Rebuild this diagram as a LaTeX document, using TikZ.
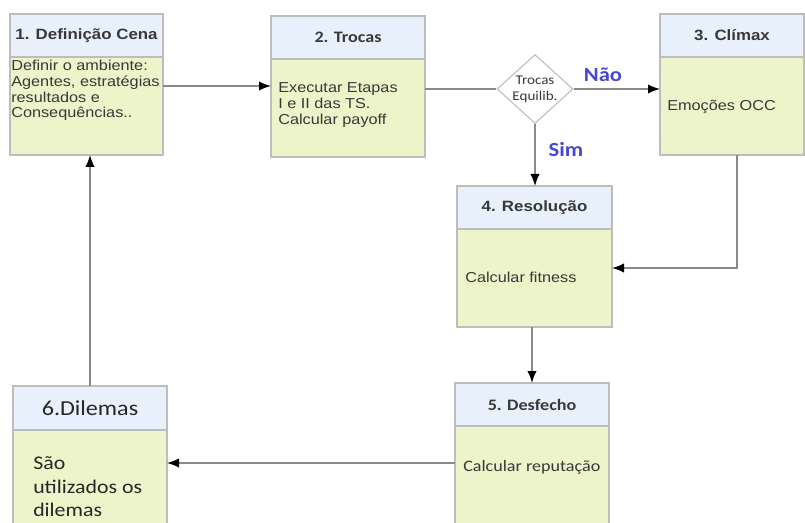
\documentclass[tikz,border=0pt]{standalone}
\usepackage{fontspec}
\usetikzlibrary{arrows.meta,calc,shapes.geometric}
\newfontfamily\arialf[FakeStretch=1.13]{Liberation Sans}
\newfontfamily\calibf[FakeStretch=1.13]{Carlito}
\definecolor{hdrfill}{HTML}{E8F1FB}
\definecolor{bodyfill}{HTML}{EEF4CA}
\definecolor{boxline}{HTML}{BDBDBD}
\definecolor{txt}{HTML}{383838}
\definecolor{lnc}{HTML}{8A8A8A}
\definecolor{lblue}{HTML}{4747D2}
\begin{document}
\begin{tikzpicture}[x=0.75pt,y=-0.75pt,
  hdr/.style={draw=boxline,fill=hdrfill,inner sep=0pt,outer sep=0pt,line width=0.8pt,minimum height=32.25pt},
  bdy/.style={draw=boxline,fill=bodyfill,inner sep=0pt,outer sep=0pt,line width=0.8pt,minimum height=73.5pt},
  ahdr/.style={text=txt,font=\arialf\bfseries\fontsize{11.2pt}{13pt}\selectfont},
  chdr/.style={text=txt,font=\calibf\bfseries\fontsize{12pt}{14pt}\selectfont},
  atxt/.style={text=txt,inner sep=0pt,anchor=west,align=left,font=\arialf\fontsize{10.8pt}{11.8pt}\selectfont},
  ln/.style={draw=lnc,line width=1.1pt},
  arr/.style={ln,-{Latex[length=9pt,width=7pt,color=black]}},
  lbl/.style={text=lblue,font=\calibf\bfseries\fontsize{15pt}{17pt}\selectfont}]
\useasboundingbox (0,0) rectangle (805,523);
% Box 1
\node[hdr,minimum width=114.75pt] (h1) at (86.5,35.5) {};
\node[bdy,minimum width=114.75pt] (b1) at (86.5,106) {};
\node[ahdr] (t1h) at (h1.center) {1. Definição Cena};
\node[atxt,anchor=north west] (t1) at (11,60) {Definir o ambiente:\\Agentes, estratégias\\resultados e\\Consequências..};
% Box 2
\node[hdr,minimum width=115.5pt] (h2) at (348,37.5) {};
\node[bdy,minimum width=115.5pt] (b2) at (348,108) {};
\node[chdr] (t2h) at (h2.center) {2. Trocas};
\node[atxt] (t2) at (278,105) {Executar Etapas\\I e II das TS.\\Calcular payoff};
% Diamond
\node[diamond,draw=boxline,fill=white,line width=0.8pt,inner sep=0pt,minimum width=57pt,minimum height=51.75pt] (d) at (535,89) {};
\node[text=txt,align=center,font=\calibf\fontsize{10pt}{12pt}\selectfont] (dt) at (d.center) {Trocas\\Equilib.};
% Box 3
\node[hdr,minimum width=108pt] (h3) at (732,35.5) {};
\node[bdy,minimum width=108pt] (b3) at (732,106) {};
\node[ahdr] (t3h) at (h3.center) {3. Clímax};
\node[atxt] (t3) at (667,107) {Emoções OCC};
% Box 4
\node[hdr,minimum width=116.25pt] (h4) at (534.5,207.5) {};
\node[bdy,minimum width=116.25pt] (b4) at (534.5,278) {};
\node[ahdr] (t4h) at (h4.center) {4. Resolução};
\node[atxt] (t4) at (465,277) {Calcular fitness};
% Box 5
\node[hdr,minimum width=115.5pt] (h5) at (532,404.5) {};
\node[bdy,minimum width=115.5pt,minimum height=85.5pt] (b5) at (532,483) {};
\node[chdr] (t5h) at (h5.center) {5. Desfecho};
\node[atxt,font=\calibf\fontsize{12pt}{14pt}\selectfont] (t5) at (463,467) {Calcular reputação};
% Box 6
\node[hdr,minimum width=115.5pt,minimum height=33pt] (h6) at (90,408) {};
\node[bdy,minimum width=115.5pt,minimum height=82.5pt] (b6) at (90,485) {};
\node[text=black!85,font=\calibf\fontsize{16pt}{18pt}\selectfont] (t6h) at (h6.center) {6.Dilemas};
\node[atxt,text=black!85,font=\calibf\fontsize{14.5pt}{17.6pt}\selectfont] (t6) at (33,487) {São\\utilizados os\\dilemas};
% Labels
\node[lbl] (nao) at (603,75) {Não};
\node[lbl] (sim) at (566,150) {Sim};
% Connectors
\draw[arr] ($(b1.north east)+(0,29)$) -- ($(b2.north west)+(0,27)$);
\draw[ln] ($(b2.north east)+(0,30)$) -- (d.west);
\draw[arr] (d.east) -- (d.east -| b3.west);
\draw[arr] (d.south) -- (d.south |- h4.north);
\coordinate (c34) at (737,268);
\draw[arr] (b3.south -| c34) |- (b4.east |- c34);
\draw[arr] (h5.north |- b4.south) -- (h5.north);
\draw[arr] ($(b5.north west)+(0,37)$) -- ($(b6.north east)+(0,33)$);
\draw[arr] (h6.north) -- (h6.north |- b1.south);
\end{tikzpicture}
\end{document}
